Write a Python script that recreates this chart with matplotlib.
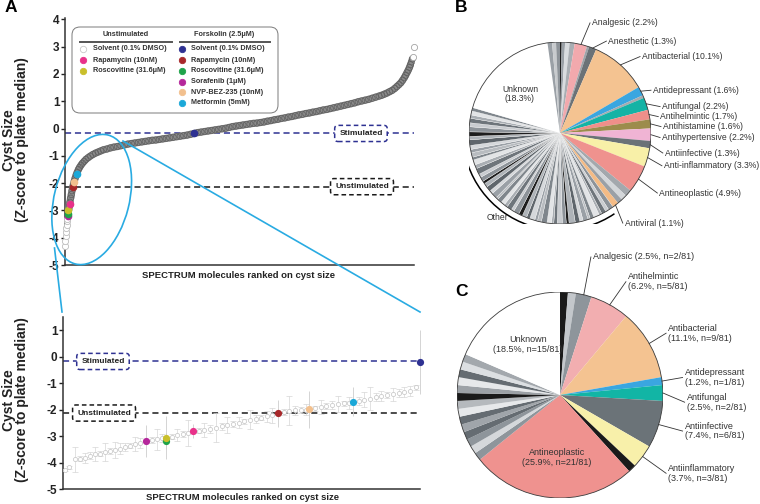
import math
import matplotlib
matplotlib.use("Agg")
import matplotlib.pyplot as plt
from matplotlib.patches import Ellipse, Arc, Circle, FancyBboxPatch
from matplotlib.lines import Line2D
from matplotlib.transforms import blended_transform_factory

plt.rcParams["font.family"] = ["Liberation Sans", "DejaVu Sans"]

W, H = 760, 504

# ---------------- panel A data ----------------
STIM_LEVEL = -0.18
UNSTIM_LEVEL = -2.13

# unstimulated DMSO wells (light open circles, ranked)
ctrl_rank = [0, 2, 4, 6, 8, 10, 12, 14, 17, 20, 23, 26, 30, 34]
ctrl_z = [-4.31, -4.12, -3.95, -3.80, -3.65, -3.52, -3.40, -3.30, -3.18, -3.05,
          -2.92, -2.78, -2.62, -2.48]

# SPECTRUM compounds, ranked on cyst size
cmp_rank = [20, 24, 28, 32, 36, 40, 44, 48, 53, 58, 64, 70, 77, 84, 92, 100, 110, 120,
            132, 145, 160, 175, 190, 205, 220, 240, 260, 280, 300, 320, 340, 360, 380,
            400, 420, 440, 460, 480, 500, 520, 540, 560, 580, 600, 620, 640, 660, 680,
            700, 720, 740, 760, 780, 800, 820, 840, 860, 880, 900, 920, 940, 960, 980,
            1000, 1020, 1040, 1060, 1080, 1100, 1120, 1140, 1160, 1180, 1200, 1220,
            1240, 1260, 1280, 1300, 1320, 1340, 1360, 1380, 1400, 1420, 1440, 1460,
            1480, 1500, 1520, 1540, 1560, 1580, 1600, 1620, 1640, 1660, 1680, 1700,
            1720, 1740, 1760, 1780, 1800, 1815, 1830, 1845, 1860, 1875, 1890, 1902,
            1914, 1925, 1935, 1944, 1952, 1960, 1967, 1974, 1980, 1986, 1991]
cmp_z = [-3.00, -2.85, -2.70, -2.55, -2.42, -2.28, -2.15, -2.05, -1.93, -1.82, -1.70,
         -1.60, -1.50, -1.42, -1.34, -1.27, -1.20, -1.13, -1.07, -1.01, -0.95, -0.90,
         -0.86, -0.82, -0.78, -0.75, -0.71, -0.68, -0.66, -0.63, -0.60, -0.57, -0.55,
         -0.53, -0.51, -0.49, -0.47, -0.45, -0.43, -0.42, -0.40, -0.38, -0.36, -0.34,
         -0.32, -0.30, -0.28, -0.26, -0.24, -0.21, -0.18, -0.15, -0.13, -0.11, -0.09,
         -0.07, -0.05, -0.03, -0.01, 0.01, 0.04, 0.07, 0.09, 0.11, 0.13, 0.15, 0.17,
         0.19, 0.20, 0.22, 0.24, 0.27, 0.29, 0.32, 0.34, 0.37, 0.39, 0.42, 0.44, 0.47,
         0.50, 0.52, 0.55, 0.57, 0.60, 0.62, 0.65, 0.68, 0.70, 0.73, 0.76, 0.79, 0.82,
         0.85, 0.88, 0.91, 0.94, 0.98, 1.01, 1.04, 1.07, 1.11, 1.15, 1.19, 1.22, 1.26,
         1.30, 1.35, 1.40, 1.47, 1.54, 1.61, 1.68, 1.77, 1.86, 1.95, 2.05, 2.14, 2.24,
         2.34, 2.44, 2.55]
# the few isolated top hits (drawn lighter)
top_hit_rank = [1995, 1999]
top_hit_z = [2.62, 2.98]

# reference treatments
treat_names = ["Solvent (0.1% DMSO)", "Rapamycin (10nM)", "Roscovitine (31.6μM)",
               "Solvent (0.1% DMSO)", "Rapamycin (10nM)", "Roscovitine (31.6μM)",
               "Sorafenib (1μM)", "NVP-BEZ-235 (10nM)", "Metformin (5mM)"]
treat_keys = ["u_dmso", "u_rapa", "u_rosc", "s_dmso", "s_rapa", "s_rosc", "s_sora",
              "s_nvp", "s_metf"]

# positions in the full ranking (top panel)
top_keys = ["s_sora", "s_rosc", "u_rosc", "u_rapa", "s_rapa", "s_nvp", "s_metf", "s_dmso"]
top_rank = [17, 19, 19, 26, 44, 52, 67, 737]
top_z = [-3.20, -3.14, -3.00, -2.77, -2.13, -1.97, -1.67, -0.17]

# zoomed ranking (bottom panel): gray compounds with SD
bx = [0.6, 1.6, 3.4, 4.8, 6.2, 7.6, 9.0, 10.4, 11.8, 13.2, 14.6, 16.0, 17.4, 18.8, 20.2,
      21.6, 25.0, 26.4, 27.6, 30.4, 32.0, 33.6, 35.0, 38.0, 39.6, 41.2, 42.8, 44.4, 46.0,
      47.6, 49.2, 50.8, 52.4, 54.0, 55.6, 57.2, 58.6, 61.8, 63.4, 65.0, 66.6, 68.0, 70.6,
      72.2, 73.8, 75.4, 77.0, 78.6, 80.0, 82.8, 84.4, 86.0, 87.6, 89.2, 90.8, 92.4, 94.0,
      95.6, 97.2, 98.8]
bz = [-4.28, -4.18, -3.88, -3.86, -3.82, -3.74, -3.68, -3.66, -3.60, -3.56, -3.52, -3.47,
      -3.40, -3.36, -3.31, -3.27, -3.16, -3.12, -3.09, -3.02, -2.97, -2.93, -2.88, -2.80,
      -2.76, -2.72, -2.68, -2.63, -2.59, -2.54, -2.49, -2.44, -2.39, -2.34, -2.30, -2.25,
      -2.21, -2.10, -2.05, -2.03, -2.01, -2.00, -1.95, -1.90, -1.86, -1.82, -1.79, -1.76,
      -1.74, -1.67, -1.62, -1.58, -1.53, -1.49, -1.45, -1.42, -1.38, -1.34, -1.30, -1.16]
berr = [0.04, 0.05, 0.46, 0.10, 0.18, 0.14, 0.25, 0.10, 0.34, 0.12, 0.30, 0.20, 0.15,
        0.10, 0.26, 0.18, 0.12, 0.40, 0.15, 0.10, 0.22, 0.12, 0.50, 0.10, 0.26, 0.15,
        0.55, 0.14, 0.30, 0.12, 0.20, 0.10, 0.36, 0.15, 0.10, 0.20, 0.28, 0.12, 0.55,
        0.18, 0.12, 0.20, 0.10, 0.26, 0.12, 0.15, 0.30, 0.10, 0.22, 0.15, 0.30, 0.45,
        0.15, 0.20, 0.12, 0.25, 0.15, 0.20, 0.18, 0.10]

bot_keys = ["s_sora", "s_rosc", "u_rosc", "u_rapa", "s_rapa", "s_nvp", "s_metf", "s_dmso"]
bot_x = [23.2, 28.8, 28.8, 36.5, 60.1, 69.0, 81.3, 100.0]
bot_z = [-3.18, -3.18, -3.06, -2.81, -2.14, -1.98, -1.71, -0.20]
bot_err = [0.60, 0.30, 0.82, 0.28, 0.50, 0.70, 0.55, 1.20]

# ---------------- panel B data (% of SPECTRUM) ----------------
b_labels = ["Analgesic", "Anesthetic", "Antibacterial", "Antidepressant", "Antifungal",
            "Antihelmintic", "Antihistamine", "Antihypertensive", "Antiinfective",
            "Anti-inflammatory", "Antineoplastic", "Antiviral", "Unknown"]
b_pct = [2.2, 1.3, 10.1, 1.6, 2.2, 1.7, 1.6, 2.2, 1.3, 3.3, 4.9, 1.1, 18.3]
b_top_gray = [0.3, 0.6, 0.8, 0.9]
b_gap1 = [0.4]
b_gap2 = [0.5]
b_gap3 = [1.2, 1.0, 0.9]
b_other = [0.9, 0.6, 0.8, 0.5, 1.0, 0.7, 0.4, 0.9, 0.6, 0.8, 1.1, 0.5, 0.7, 0.9, 0.6,
           0.4, 0.8, 1.0, 0.7, 0.5, 0.9, 0.6, 0.8, 0.7, 1.0, 0.5, 0.9, 0.6, 0.7, 0.8,
           0.4, 1.0, 0.6, 0.9, 0.7, 0.5, 0.8, 0.6, 1.1, 0.7, 0.9, 0.5, 0.8, 0.6, 0.7,
           1.0, 0.6, 0.8, 0.9, 0.7, 0.8, 0.6, 0.7, 0.6]
b_end_gray = [0.8, 0.7, 0.7]

# ---------------- panel C data (hits, n of 81) ----------------
c_labels = ["Analgesic", "Antihelmintic", "Antibacterial", "Antidepressant", "Antifungal",
            "Antiinfective", "Antiinflammatory", "Antineoplastic", "Unknown"]
c_n = [2, 5, 9, 1, 2, 6, 3, 21, 15]
c_total = 81
c_single_left = [1] * 14

# ---------------- styles ----------------
COL = {"u_dmso": "white", "u_rapa": "#e8318a", "u_rosc": "#c9bf2b", "s_dmso": "#2e3192",
       "s_rapa": "#a8282a", "s_rosc": "#1fa34a", "s_sora": "#b5279b", "s_nvp": "#f2c08e",
       "s_metf": "#1ba8d8"}
BLUE = "#2e3192"
CYAN = "#29abe2"
GRAYS = ["#8d9399", "#c9ccd0", "#6e757b", "#a9aeb3", "#e2e4e6", "#7f868c", "#b8bcc0",
         "#9aa0a6", "#d5d8db", "#5f666c", "#aeb3b8", "#1e1e1e"]
B_COL = {"Analgesic": "#f2a9ad", "Anesthetic": "#6b7277", "Antibacterial": "#f4c391",
         "Antidepressant": "#3aa6e0", "Antifungal": "#14b3a5", "Antihelmintic": "#ef8f8a",
         "Antihistamine": "#9c8c4c", "Antihypertensive": "#f0b4d4",
         "Antiinfective": "#6b7277", "Anti-inflammatory": "#f8f0a8",
         "Antineoplastic": "#ef928e", "Antiviral": "#f4bb85", "Unknown": "white"}
C_COL = {"Analgesic": "#8e959b", "Antihelmintic": "#f2aeb0", "Antibacterial": "#f4c391",
         "Antidepressant": "#3aa6e0", "Antifungal": "#12b5a5", "Antiinfective": "#6b7378",
         "Antiinflammatory": "#f8f0aa", "Antineoplastic": "#ef928f", "Unknown": "white"}
C_LEFT_COL = ["#8e959b", "#d5d8db", "#8e959b", "#656c72", "#a0a5aa", "#656c72", "#e6e8ea",
              "#b5b9bd", "#1a1a1a", "#9ca1a6", "#e6e8ea", "#656c72", "#dcdfe2", "#a3a8ad"]
TXT = "#333333"

fig = plt.figure(figsize=(W / 100, H / 100), dpi=100)
fig.patch.set_facecolor("white")
INCH = fig.dpi_scale_trans


def px_axes(left, top, right, bottom):
    return fig.add_axes([left / W, 1 - bottom / H, (right - left) / W, (bottom - top) / H])


def inch(x, y):
    return x / 100, (H - y) / 100


def style_zaxis(ax, ylo, yhi, ticks):
    for s in ("top", "right"):
        ax.spines[s].set_visible(False)
    for s in ("left", "bottom"):
        ax.spines[s].set_linewidth(1.1)
        ax.spines[s].set_color("#333333")
    ax.set_ylim(ylo, yhi)
    ax.set_yticks(ticks)
    ax.set_yticklabels([str(t) for t in ticks], fontsize=8.5, fontweight="bold")
    ax.tick_params(axis="y", length=3, width=1, pad=1, colors="#222222")
    ax.set_xticks([])


def ref_lines(ax, bx_stim, bx_unstim):
    tr = blended_transform_factory(ax.transAxes, ax.transData)
    for z, col, txt, xb in ((STIM_LEVEL, BLUE, "Stimulated", bx_stim),
                            (UNSTIM_LEVEL, "#1a1a1a", "Unstimulated", bx_unstim)):
        ax.axhline(z, color=col, lw=1.1, ls=(0, (4, 2.5)), zorder=2)
        ax.text(xb, z, txt, transform=tr, ha="center", va="center", fontsize=6,
                fontweight="bold", color="#222222", zorder=8,
                bbox=dict(boxstyle="round,pad=0.55,rounding_size=0.4", fc="white",
                          ec=col, lw=1.1, ls=(0, (3, 2))))


# ---------------- A, top ----------------
ax1 = px_axes(65, 18, 414, 265)
style_zaxis(ax1, -5, 4.05, list(range(-5, 5)))
ax1.set_xlim(0, 2000)
ax1.scatter(ctrl_rank, ctrl_z, s=20, facecolors="white", edgecolors="#bdbdbd", lw=0.6,
            zorder=3, clip_on=False)
# dense band of overlapping compound circles
ax1.plot(cmp_rank, cmp_z, color="#8a8a8a", lw=5.2, solid_capstyle="round",
         solid_joinstyle="round", zorder=3.1)
ax1.scatter(cmp_rank, cmp_z, s=20, facecolors="none", edgecolors="#5f5f5f", lw=0.5,
            zorder=3.2, clip_on=False)
ax1.scatter(top_hit_rank, top_hit_z, s=20, facecolors="white", edgecolors="#a5a5a5",
            lw=0.6, zorder=3.2, clip_on=False)
for k, r, z in zip(top_keys, top_rank, top_z):
    ax1.scatter([r], [z], s=30, color=COL[k], lw=0, zorder=5, clip_on=False)
ref_lines(ax1, 0.848, 0.851)

fig.text(239 / W, 1 - 275 / H, "SPECTRUM molecules ranked on cyst size", ha="center",
         va="center", fontsize=6.8, fontweight="bold", color="#222222")

# legend box
fig.add_artist(FancyBboxPatch(inch(72, 113), 2.06, 0.86, transform=INCH,
                              boxstyle="round,pad=0,rounding_size=0.08", fc="white",
                              ec="#7a7a7a", lw=0.7, zorder=6))
for cx, x0, x1, head in ((126, 80, 172, "Unstimulated"), (224, 180, 270, "Forskolin (2.5μM)")):
    fig.text(cx / W, 1 - 34 / H, head, ha="center", va="center", fontsize=5.2,
             fontweight="bold", color=TXT, zorder=7)
    fig.add_artist(Line2D([x0 / 100, x1 / 100], [(H - 42) / 100] * 2, transform=INCH,
                          color="#555555", lw=1.4, zorder=7))
rows_left = [49, 60, 71]
rows_right = [49, 60, 71, 81.5, 92, 102.5]
for i, (name, key) in enumerate(zip(treat_names, treat_keys)):
    if i < 3:
        mx, tx, y = 83, 93, rows_left[i]
    else:
        mx, tx, y = 182, 191, rows_right[i - 3]
    edge = "#c8c8c8" if key == "u_dmso" else COL[key]
    fig.add_artist(Line2D([mx / 100], [(H - y) / 100], transform=INCH, marker="o", ms=4.6,
                          mfc=COL[key], mec=edge, mew=0.6, ls="none", zorder=7))
    fig.text(tx / W, 1 - y / H, name, ha="left", va="center", fontsize=5.2,
             fontweight="bold", color=TXT, zorder=7)

# ---------------- A, bottom ----------------
ax2 = px_axes(63, 317, 420, 489)
style_zaxis(ax2, -5, 1.5, list(range(-5, 2)))
ax2.set_xlim(0, 100)
ax2.errorbar(bx, bz, yerr=berr, fmt="o", ms=3, mfc="white", mec="#c4c4c4", mew=0.5,
             ecolor="#d6d6d6", elinewidth=0.5, capsize=2, capthick=0.5, zorder=3)
for k, x, z, e in zip(bot_keys, bot_x, bot_z, bot_err):
    ax2.errorbar([x], [z], yerr=[e], fmt="o", ms=5.2, mfc=COL[k], mec=COL[k], mew=0,
                 ecolor="#cdcdcd", elinewidth=0.6, capsize=2.5, capthick=0.6, zorder=5,
                 clip_on=False)
ref_lines(ax2, 0.112, 0.115)
fig.text(243 / W, 1 - 497 / H, "SPECTRUM molecules ranked on cyst size", ha="center",
         va="center", fontsize=6.8, fontweight="bold", color="#222222")

for yc in (140, 400):
    fig.text(15.5 / W, 1 - yc / H, "Cyst Size\n(Z-score to plate median)", rotation=90,
             ha="center", va="center", fontsize=10, fontweight="bold", linespacing=0.95,
             multialignment="center", color="#222222")

# zoom ellipse + connectors
fig.add_artist(Ellipse(inch(91.7, 199.5), 0.75, 1.33, angle=-14.3, transform=INCH,
                       fill=False, ec=CYAN, lw=1.2, zorder=9))
for (xa, ya), (xb_, yb) in (((54.5, 248), (62, 312)), ((123, 141), (420, 312))):
    pa, pb = inch(xa, ya), inch(xb_, yb)
    fig.add_artist(Line2D([pa[0], pb[0]], [pa[1], pb[1]], transform=INCH, color=CYAN,
                          lw=1.2, zorder=9))

# ---------------- B ----------------
b_sizes, b_cols, b_kind = [], [], []
seq = ([("g", v) for v in b_top_gray] + [("n", 0)] + [("g", v) for v in b_gap1]
       + [("n", 1), ("n", 2), ("n", 3)] + [("g", v) for v in b_gap2]
       + [("n", i) for i in range(4, 11)] + [("g", v) for v in b_gap3] + [("n", 11)]
       + [("o", v) for v in b_other] + [("n", 12)] + [("g", v) for v in b_end_gray])
gap_cols = ["#1e1e1e", "#9aa0a6", "#d9dcdf", "#a9aeb3", "#9ea3a8", "#a6abb0", "#a3a8ad",
            "#d3d6d9", "#9aa0a6", "#9aa0a6", "#c8cbce", "#8d9399"]
gi = oi = 0
for kind, v in seq:
    if kind == "n":
        b_sizes.append(b_pct[v]); b_cols.append(B_COL[b_labels[v]]); b_kind.append(v)
    elif kind == "g":
        b_sizes.append(v); b_cols.append(gap_cols[gi]); b_kind.append(-1); gi += 1
    else:
        b_sizes.append(v); b_cols.append(GRAYS[oi % len(GRAYS)]); b_kind.append(-2); oi += 1

r_b = 91
axb = fig.add_axes([(560 - r_b) / W, (H - 133 - r_b) / H, 2 * r_b / W, 2 * r_b / H])
wb, _ = axb.pie(b_sizes, colors=b_cols, startangle=90, counterclock=False,
                wedgeprops=dict(lw=0))
for w, k in zip(wb, b_kind):
    if k == -2:
        w.set_edgecolor("#f4f4f4"); w.set_linewidth(0.25)
axb.add_patch(Circle((0, 0), 1, fill=False, ec="#3a3a3a", lw=0.6))
axb.set_xlim(-1, 1); axb.set_ylim(-1, 1); axb.axis("off")

b_text_pos = [(0.35, 1.21), (0.53, 1.01), (0.90, 0.84), (1.02, 0.47), (1.12, 0.29),
              (1.10, 0.18), (1.13, 0.07), (1.12, -0.05), (1.15, -0.22), (1.14, -0.36),
              (1.09, -0.66), (0.71, -0.99)]
for w, k in zip(wb, b_kind):
    if k < 0:
        continue
    if b_labels[k] == "Unknown":
        axb.text(-0.44, 0.43, f"Unknown\n({b_pct[k]}%)", ha="center", va="center",
                 fontsize=6.2, color=TXT, linespacing=1.1)
        continue
    ang = math.radians((w.theta1 + w.theta2) / 2)
    tx, ty = b_text_pos[k]
    axb.plot([math.cos(ang), tx - 0.02], [math.sin(ang), ty], color=TXT, lw=0.6,
             clip_on=False)
    axb.text(tx, ty, f"{b_labels[k]} ({b_pct[k]}%)", ha="left", va="center", fontsize=6.2,
             color=TXT, clip_on=False)
axb.add_patch(Arc((0, 0), 2.14, 2.14, theta1=164, theta2=304, color="black", lw=1.1))
axb.text(-0.69, -0.93, "Other", ha="center", va="center", fontsize=6.2, color=TXT)

# ---------------- C ----------------
c_sizes = ([1, 1] + c_n[:7] + [1, c_n[7]] + c_single_left + [c_n[8]])
c_cols = (["#1a1a1a", "#c3c7cb"] + [C_COL[n] for n in c_labels[:7]] + ["#1a1a1a",
          C_COL["Antineoplastic"]] + C_LEFT_COL + ["white"])
c_kind = [-1, -1] + list(range(7)) + [-1, 7] + [-1] * 14 + [8]

r_c = 103
axc = fig.add_axes([(560 - r_c) / W, (H - 395 - r_c) / H, 2 * r_c / W, 2 * r_c / H])
wc, _ = axc.pie(c_sizes, colors=c_cols, startangle=90, counterclock=False,
                wedgeprops=dict(lw=0))
axc.add_patch(Circle((0, 0), 1, fill=False, ec="#3a3a3a", lw=0.6))
axc.set_xlim(-1, 1); axc.set_ylim(-1, 1); axc.axis("off")

c_text_pos = [(0.32, 1.34), (0.66, 1.10), (1.05, 0.60), (1.21, 0.17), (1.23, -0.07),
              (1.21, -0.35), (1.05, -0.76)]
for w, k in zip(wc, c_kind):
    if k < 0:
        continue
    n = c_n[k]
    stat = f"({100 * n / c_total:.1f}%, n={n}/{c_total})"
    if k == 7:
        axc.text(-0.03, -0.61, f"{c_labels[k]}\n{stat}", ha="center", va="center",
                 fontsize=6.5, color=TXT, linespacing=1.1)
        continue
    if k == 8:
        axc.text(-0.31, 0.49, f"{c_labels[k]}\n{stat}", ha="center", va="center",
                 fontsize=6.5, color=TXT, linespacing=1.1)
        continue
    ang = math.radians((w.theta1 + w.theta2) / 2)
    tx, ty = c_text_pos[k]
    txt = f"{c_labels[k]} {stat}" if k == 0 else f"{c_labels[k]}\n{stat}"
    axc.plot([math.cos(ang), tx - 0.02], [math.sin(ang), ty], color=TXT, lw=0.6,
             clip_on=False)
    axc.text(tx, ty, txt, ha="left", va="center", fontsize=6.5, color=TXT,
             linespacing=1.1, clip_on=False)

# panel letters
for x, y, s in ((11, 8, "A"), (461, 8, "B"), (461, 291, "C")):
    fig.text(x / W, 1 - y / H, s, ha="center", va="center", fontsize=12.5,
             fontweight="bold", color="black")

fig.savefig("out.png", dpi=100)
